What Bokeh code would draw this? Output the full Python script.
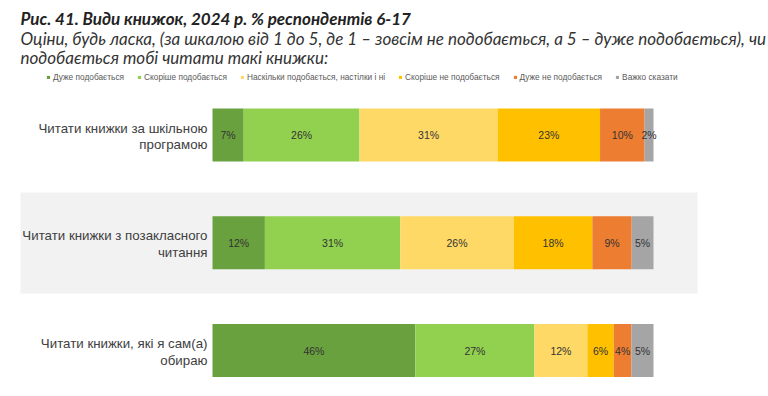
from bokeh.plotting import figure
from bokeh.models import ColumnDataSource, Range1d, Label
from bokeh.core.properties import value
from bokeh.embed import file_html
from bokeh.resources import INLINE

# ---------------- data ----------------
categories = [
    ["Читати книжки за шкільною", "програмою"],
    ["Читати книжки з позакласного", "читання"],
    ["Читати книжки, які я сам(а)", "обираю"],
]
responses = [
    "Дуже подобається",
    "Скоріше подобається",
    "Наскільки подобається, настілки і ні",
    "Скоріше не подобається",
    "Дуже не подобається",
    "Важко сказати",
]
very_like = [7, 12, 46]
rather_like = [26, 31, 27]
neutral = [31, 26, 12]
rather_dislike = [23, 18, 6]
very_dislike = [10, 9, 4]
hard_to_say = [2, 5, 5]
colors = ["#6aa13f", "#92d050", "#ffd966", "#ffc000", "#ed7d31", "#a5a5a5"]

title1 = "Рис. 41. Види книжок, 2024 р. % респондентів 6-17"
title2 = "Оціни, будь ласка, (за шкалою від 1 до 5, де 1 – зовсім не подобається, а 5 – дуже подобається), чи"
title3 = "подобається тобі читати такі книжки:"

series = [very_like, rather_like, neutral, rather_dislike, very_dislike, hard_to_say]
keys = ["s%d" % k for k in range(len(series))]

# ------------- layout (page pixels) -------------
W, H = 768, 396
PAGE_X0, PAGE_Y0 = 0, 0
BAR_X0, BAR_X1 = 212, 653
PX_PER = (BAR_X1 - BAR_X0) / 100.0
ROW_Y0, ROW_STEP = 134.5, 107.75
BAR_H = 53


def px2x(px):
    return (px - BAR_X0) / PX_PER


def py2y(py):
    return (py - ROW_Y0) / ROW_STEP


x_range = Range1d(px2x(PAGE_X0), px2x(PAGE_X0 + W))
y_range = Range1d(py2y(PAGE_Y0 + H), py2y(PAGE_Y0))

p = figure(width=W, height=H, x_range=x_range, y_range=y_range,
           output_backend="svg", toolbar_location=None,
           min_border=0, min_border_left=0, min_border_right=0,
           min_border_top=0, min_border_bottom=0)
p.axis.visible = False
p.grid.visible = False
p.outline_line_color = None
p.background_fill_color = "white"
p.border_fill_color = "white"

# gray band behind the middle row
band_l, band_r, band_t, band_b = 20, 697, 192, 293
p.quad(left=[px2x(band_l)], right=[px2x(band_r)],
       top=[py2y(band_t)], bottom=[py2y(band_b)],
       fill_color="#f2f2f2", line_color=None)

# normalised stacked bars
n = len(categories)
idx = list(range(n))
totals = [sum(s[i] for s in series) for i in idx]
data = {"idx": idx}
for k, s in zip(keys, series):
    data[k] = [100.0 * s[i] / totals[i] for i in idx]
src = ColumnDataSource(data)
p.hbar_stack(keys, y="idx", height=BAR_H / ROW_STEP, color=colors,
             line_color=None, source=src, legend_label=responses)

# value labels
lx, ly, lt = [], [], []
for i in idx:
    cum = 0.0
    for k, s in zip(keys, series):
        v = data[k][i]
        lx.append(cum + v / 2.0)
        ly.append(i)
        lt.append("%d%%" % s[i])
        cum += v
p.text(x=lx, y=ly, text=lt, text_align="center", text_baseline="middle",
       text_font=value("Liberation Sans"), text_font_size="10.5px",
       text_color="#333333")

# category labels (two lines)
cx, cy, ct = [], [], []
for i, lines in enumerate(categories):
    for j, line in enumerate(lines):
        cx.append(px2x(207))
        cy.append(i + ((-7 if j == 0 else 9.5) / ROW_STEP))
        ct.append(line)
p.text(x=cx, y=cy, text=ct, text_align="right", text_baseline="middle",
       text_font=value("Liberation Sans"), text_font_size="13.3px",
       text_color="#404040")

# titles


def add_title(txt, py, style, size, color):
    p.add_layout(Label(x=20 - PAGE_X0, y=(PAGE_Y0 + H) - py, x_units="screen",
                       y_units="screen", text=txt, text_font="Lato",
                       text_font_style=style, text_font_size=size,
                       text_color=color, text_baseline="middle",
                       text_align="left"))


add_title(title1, 18, "bold italic", "17px", "#222222")
add_title(title2, 38, "italic", "17px", "#333333")
add_title(title3, 57, "italic", "17px", "#333333")

# legend
lg = p.legend[0]
lg.orientation = "horizontal"
lg.location = (46 - PAGE_X0, (PAGE_Y0 + H) - 82)
lg.label_text_font = "Liberation Sans"
lg.label_text_font_size = "8.3px"
lg.label_text_color = "#595959"
lg.label_height = 10
lg.glyph_height = 4
lg.glyph_width = 4
lg.label_standoff = 3
lg.spacing = 13
lg.padding = 0
lg.margin = 0
lg.border_line_color = None
lg.background_fill_alpha = 0

open("out.html", "w").write(file_html(p, INLINE))
